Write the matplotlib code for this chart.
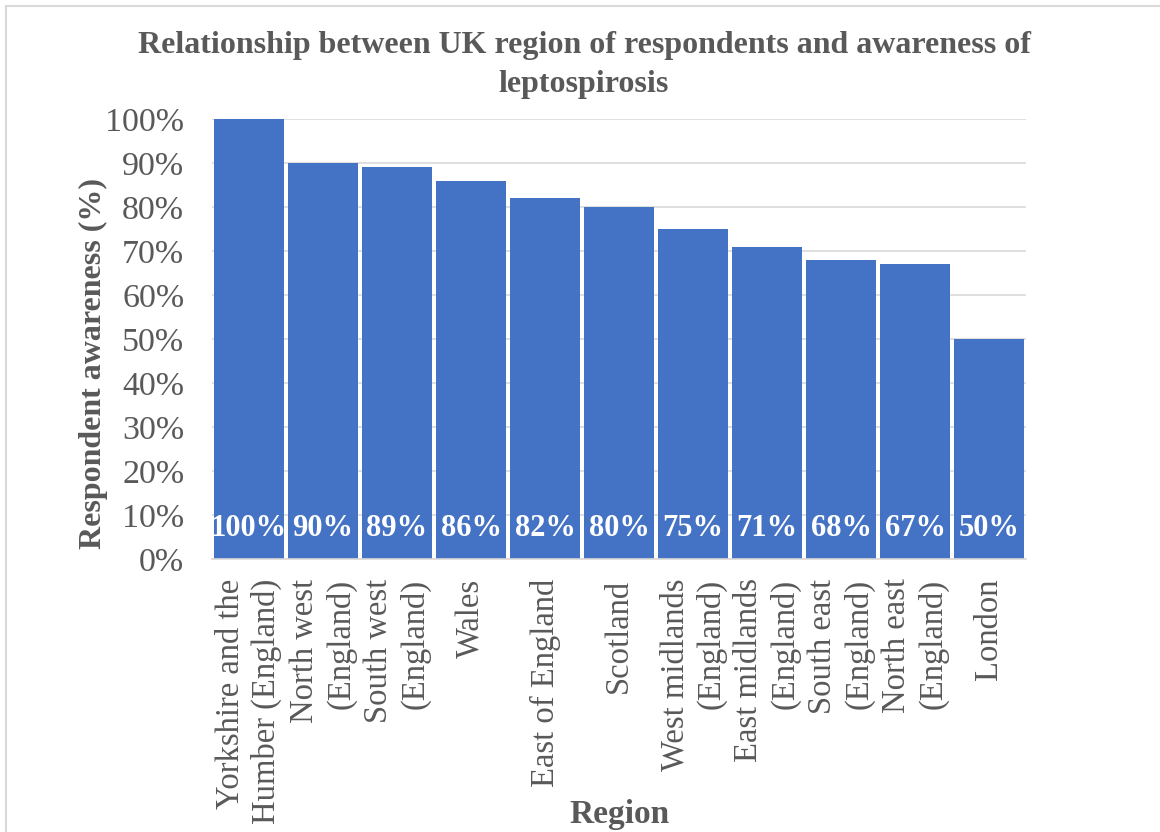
import matplotlib.pyplot as plt
from matplotlib.patches import Rectangle
from matplotlib.ticker import FuncFormatter
from matplotlib.transforms import offset_copy

regions = [
    "Yorkshire and the\nHumber (England)",
    "North west\n(England)",
    "South west\n(England)",
    "Wales",
    "East of England",
    "Scotland",
    "West midlands\n(England)",
    "East midlands\n(England)",
    "South east\n(England)",
    "North east\n(England)",
    "London",
]
awareness = [100, 90, 89, 86, 82, 80, 75, 71, 68, 67, 50]
y_ticks = [0, 10, 20, 30, 40, 50, 60, 70, 80, 90, 100]

plt.rcParams['font.family'] = ['Liberation Serif', 'DejaVu Serif']
text_grey = '#595959'
bar_blue = '#4472C4'

fig = plt.figure(figsize=(11.6, 8.32), dpi=100)
ax = fig.add_axes([212 / 1160, 1 - 559 / 832, 814 / 1160, 440 / 832])

# chart area frame
fig.patches.append(Rectangle((6 / 1160, -0.01), 1.0, 1 - 6 / 832 + 0.01,
                             transform=fig.transFigure, fill=False,
                             edgecolor='#D9D9D9', linewidth=1.5))

x = list(range(len(regions)))
ax.bar(x, awareness, width=0.945, color=bar_blue, zorder=2)

# value labels sit at the base of each bar
lbl_tr = offset_copy(ax.transData, fig=fig, x=0, y=31, units='dots')
for i, v in zip(x, awareness):
    ax.text(i, 0, f"{v}%", transform=lbl_tr, ha='center', va='center',
            color='white', fontsize=22, fontweight='bold', zorder=3)

ax.set_xlim(-0.5, len(regions) - 0.5)
ax.set_ylim(0, 100)
ax.set_yticks(y_ticks)
ax.yaxis.set_major_formatter(FuncFormatter(lambda v, p: f"{v:.0f}%"))
ax.set_xticks(x)
ax.set_xticklabels(regions, rotation=90, ha='center', va='top',
                   multialignment='right', linespacing=1.2)

ax.grid(axis='y', color='#D9D9D9', linewidth=1.2, zorder=0)
for s in ['top', 'right', 'left']:
    ax.spines[s].set_visible(False)
ax.spines['bottom'].set_color('#D9D9D9')
ax.spines['bottom'].set_linewidth(1.2)
ax.tick_params(axis='both', length=0, colors=text_grey)
ax.tick_params(axis='y', labelsize=24.5, pad=20)
ax.tick_params(axis='x', labelsize=23.5, pad=14)

ax.set_ylabel("Respondent awareness (%)", fontsize=23, fontweight='bold',
              color=text_grey)
ax.yaxis.set_label_coords((108 - 212) / 814, 0.445)
fig.text(620 / 1160, 1 - 815 / 832, "Region", ha='center', va='center',
         fontsize=24, fontweight='bold', color=text_grey)
fig.text(584 / 1160, 1 - 65 / 832,
         "Relationship between UK region of respondents and awareness of\nleptospirosis",
         ha='center', va='center', fontsize=23, fontweight='bold',
         color=text_grey, linespacing=1.45)

fig.savefig("out.png", dpi=100, facecolor='white')
